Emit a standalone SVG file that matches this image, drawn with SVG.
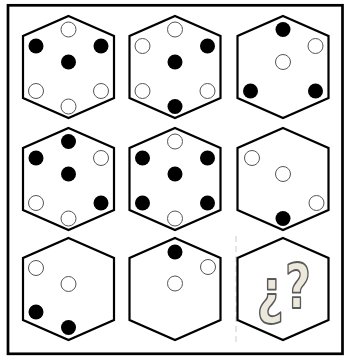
<svg xmlns="http://www.w3.org/2000/svg" width="344" height="356" viewBox="0 0 344 356">
<style>
.hex{fill:#fff;stroke:#000;stroke-width:2.2;stroke-linejoin:miter}
.b{fill:#000}
.w{fill:#fff;stroke:#555;stroke-width:1}
.q{font-family:"DejaVu Sans","Liberation Sans",sans-serif;font-weight:bold;fill:#ECE9DC;stroke:#5a5a5a;stroke-width:1.8;stroke-linejoin:round}
</style>
<defs>
<path id="hx" class="hex" d="M0,-51 L45.5,-31 L45.5,31 L0,51 L-45.5,31 L-45.5,-31 Z"/>
</defs>
<rect x="0" y="0" width="344" height="356" fill="#fff"/>
<rect x="8" y="5.3" width="334.5" height="348.5" fill="#fff" stroke="#000" stroke-width="2.7"/>
<line x1="236" y1="236" x2="236" y2="346" stroke="#ccc" stroke-width="1" stroke-dasharray="6,4"/>
<g id="h11" transform="translate(68.5,67)">
<use href="#hx"/>
<circle class="w" cx="0" cy="-37.5" r="7.5"/><circle class="b" cx="-32.5" cy="-21" r="7.5"/><circle class="b" cx="32.5" cy="-21" r="7.5"/><circle class="b" cx="0" cy="-5" r="7.5"/><circle class="w" cx="-32.5" cy="24" r="7.5"/><circle class="w" cx="32.5" cy="24" r="7.5"/><circle class="w" cx="0" cy="39.5" r="7.5"/>
</g>
<g id="h12" transform="translate(175,67)">
<use href="#hx"/>
<circle class="w" cx="0" cy="-37.5" r="7.5"/><circle class="w" cx="-32.5" cy="-21" r="7.5"/><circle class="b" cx="32.5" cy="-21" r="7.5"/><circle class="b" cx="0" cy="-5" r="7.5"/><circle class="w" cx="-32.5" cy="24" r="7.5"/><circle class="w" cx="32.5" cy="24" r="7.5"/><circle class="b" cx="0" cy="39.5" r="7.5"/>
</g>
<g id="h13" transform="translate(283,67)">
<use href="#hx"/>
<circle class="b" cx="0" cy="-37.5" r="7.5"/><circle class="w" cx="32.5" cy="-21" r="7.5"/><circle class="w" cx="0" cy="-5" r="7.5"/><circle class="b" cx="-32.5" cy="24" r="7.5"/><circle class="b" cx="32.5" cy="24" r="7.5"/>
</g>
<g id="h21" transform="translate(68.5,179)">
<use href="#hx"/>
<circle class="b" cx="0" cy="-37.5" r="7.5"/><circle class="b" cx="-32.5" cy="-21" r="7.5"/><circle class="w" cx="32.5" cy="-21" r="7.5"/><circle class="b" cx="0" cy="-5" r="7.5"/><circle class="w" cx="-32.5" cy="24" r="7.5"/><circle class="b" cx="32.5" cy="24" r="7.5"/><circle class="w" cx="0" cy="39.5" r="7.5"/>
</g>
<g id="h22" transform="translate(175,179)">
<use href="#hx"/>
<circle class="w" cx="0" cy="-37.5" r="7.5"/><circle class="b" cx="-32.5" cy="-21" r="7.5"/><circle class="b" cx="32.5" cy="-21" r="7.5"/><circle class="b" cx="0" cy="-5" r="7.5"/><circle class="b" cx="-32.5" cy="24" r="7.5"/><circle class="b" cx="32.5" cy="24" r="7.5"/><circle class="w" cx="0" cy="39.5" r="7.5"/>
</g>
<g id="h23" transform="translate(283,179)">
<use href="#hx"/>
<circle class="w" cx="-31" cy="-21" r="7.5"/><circle class="w" cx="0" cy="-5" r="7.5"/><circle class="w" cx="33.5" cy="24" r="7.5"/><circle class="b" cx="0" cy="39.5" r="7.5"/>
</g>
<g id="h31" transform="translate(68.5,289)">
<use href="#hx"/>
<circle class="w" cx="-32.5" cy="-21" r="7.5"/><circle class="w" cx="0" cy="-5" r="7.5"/><circle class="b" cx="-32.5" cy="23" r="7.5"/><circle class="b" cx="0" cy="38.5" r="7.5"/>
</g>
<g id="h32" transform="translate(175,289)">
<use href="#hx"/>
<circle class="b" cx="0" cy="-37" r="7.5"/><circle class="w" cx="33" cy="-22" r="7.5"/><circle class="w" cx="0" cy="-5.5" r="7.5"/>
</g>
<g id="h33" transform="translate(283,289)">
<use href="#hx"/>
<text class="q" transform="translate(-13,23) scale(0.78,1)" font-size="60" text-anchor="middle">¿</text>
<text class="q" transform="translate(15,19) scale(0.72,1)" font-size="62" text-anchor="middle">?</text>
</g>
</svg>
